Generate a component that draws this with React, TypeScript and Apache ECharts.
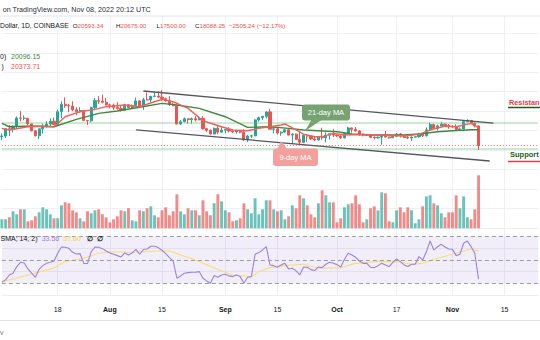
import React, { useEffect, useRef } from "react";
import * as echarts from "echarts";

const FONT = "'Liberation Sans', Arial, sans-serif";

// ---------- data ----------
const firstDay = "2022-07-03";
const dayCount = 145; // Jul 3 .. Nov 24 (empty space after Nov 8)

// daily candles [open, high, low, close], Jul 3 .. Nov 8 2022
const candles: number[][] = [
  [19240, 19640, 18760, 19300], [19300, 20310, 19050, 20230], [20230, 20720, 19300, 20190], [20190, 20650, 19770, 20550],
  [20550, 21820, 20260, 21620], [21620, 22510, 21180, 21580], [21580, 21950, 21340, 21590], [21590, 21600, 20700, 20860],
  [20860, 20870, 19900, 19970], [19970, 20050, 19260, 19330], [19330, 20260, 18910, 20220], [20220, 20890, 19630, 20580],
  [20580, 21190, 20390, 20830], [20830, 21570, 20500, 21200], [21200, 21670, 20760, 20790], [20790, 22690, 20770, 22420],
  [22420, 23750, 21590, 23390], [23390, 24270, 22920, 23230], [23230, 23420, 22350, 23160], [23160, 23770, 22510, 22680],
  [22680, 22990, 21960, 22450], [22450, 23000, 22280, 22580], [22580, 22650, 21260, 21310], [21310, 21350, 20710, 21250],
  [21250, 23080, 21050, 22950], [22950, 24190, 22590, 23850], [23850, 24440, 23420, 23770], [23770, 24650, 23510, 23640],
  [23640, 24200, 23230, 23300],
  [23300, 23470, 22850, 23270], [23270, 23460, 22660, 22980], [22980, 23650, 22690, 22830], [22830, 23220, 22440, 22620],
  [22620, 23460, 22590, 23310], [23310, 23360, 22920, 22960], [22960, 23370, 22830, 23180], [23180, 24230, 23150, 23810],
  [23810, 23920, 22880, 23150], [23150, 24210, 22670, 23950], [23950, 24900, 23900, 23940], [23940, 24460, 23600, 24400],
  [24400, 24890, 24290, 24440], [24440, 25050, 24150, 24310], [24310, 25210, 23780, 24100], [24100, 24240, 23700, 23850],
  [23850, 24450, 23190, 23340], [23340, 23600, 23140, 23190], [23190, 23200, 20810, 20830], [20830, 21360, 20800, 21140],
  [21140, 21690, 21090, 21520], [21520, 21540, 20900, 21400], [21400, 21670, 20880, 21530], [21530, 21860, 21160, 21370],
  [21370, 21820, 21320, 21560], [21560, 21880, 20140, 20240], [20240, 20370, 19830, 20040], [20040, 20140, 19530, 19550],
  [19550, 20390, 19550, 20290], [20290, 20570, 19540, 19800], [19800, 20480, 19800, 20050],
  [20050, 20200, 19660, 20130], [20130, 20440, 19750, 19950], [19950, 19960, 19660, 19830], [19830, 20030, 19600, 20000],
  [20000, 20040, 19640, 19800], [19800, 20170, 18680, 18790], [18790, 19460, 18530, 19290], [19290, 19450, 19030, 19320],
  [19320, 21460, 19300, 21370], [21370, 21800, 21130, 21650], [21650, 21860, 21380, 21830], [21830, 22490, 21560, 22400],
  [22400, 22800, 20170, 20180], [20180, 20540, 19640, 20230], [20230, 20330, 19500, 19700], [19700, 19890, 19330, 19800],
  [19800, 20180, 19750, 20110], [20110, 20130, 19380, 19420], [19420, 19680, 18260, 19540], [19540, 19630, 18770, 18880],
  [18880, 19960, 18150, 18490], [18490, 19500, 18380, 19400], [19400, 19480, 18540, 19290], [19290, 19310, 18820, 18920],
  [18920, 19180, 18640, 18800], [18800, 19310, 18680, 19230], [19230, 20360, 18810, 19080], [19080, 19780, 18480, 19410],
  [19410, 19630, 18850, 19590], [19590, 20180, 19180, 19430],
  [19430, 19480, 19160, 19310], [19310, 19400, 18920, 19060], [19060, 19720, 19000, 19630], [19630, 20480, 19500, 20340],
  [20340, 20360, 19740, 20160], [20160, 20450, 19860, 19960], [19960, 20060, 19330, 19530], [19530, 19620, 19250, 19420],
  [19420, 19530, 19330, 19440], [19440, 19530, 19030, 19130], [19130, 19260, 18860, 19060], [19060, 19220, 18990, 19160],
  [19160, 19520, 18190, 19380], [19380, 19950, 19090, 19180], [19180, 19230, 18960, 19070], [19070, 19420, 19070, 19270],
  [19270, 19680, 19160, 19550], [19550, 19700, 19110, 19330], [19330, 19360, 19070, 19120], [19120, 19350, 18900, 19040],
  [19040, 19250, 18660, 19170], [19170, 19250, 19110, 19210], [19210, 19700, 19070, 19570], [19570, 19600, 19160, 19330],
  [19330, 20410, 19240, 20090], [20090, 21020, 20060, 20770], [20770, 20880, 20200, 20290], [20290, 20750, 20000, 20600],
  [20600, 21090, 20550, 20820], [20820, 20930, 20520, 20630], [20630, 20840, 20230, 20490],
  [20490, 20700, 20350, 20480], [20480, 20800, 20050, 20150], [20150, 20400, 20040, 20210], [20210, 21300, 20180, 21150],
  [21150, 21470, 21080, 21300], [21300, 21350, 20890, 20910], [20910, 21070, 20400, 20593.34], [20593.34, 20675, 17500, 18088.25],
];

// daily volume (relative units), Jul 3 .. Nov 8
const volumes: number[] = [
  9, 9, 11, 17, 14, 19, 19, 7, 8, 12, 16, 21, 19, 14, 10, 10, 23, 26, 25, 18, 16, 10, 7, 17, 15, 18, 19, 14, 11,
  6, 9, 12, 18, 17, 20, 8, 7, 18, 17, 20, 22, 13, 11, 18, 21, 13, 17, 34, 17, 14, 20, 18, 18, 13, 28, 17, 13, 25, 34, 27,
  18, 16, 7, 8, 10, 25, 19, 15, 30, 14, 19, 28, 28, 19, 17, 18, 9, 12, 23, 20, 33, 30, 23, 14, 11, 25, 38, 33, 26, 26,
  6, 10, 21, 24, 25, 33, 24, 6, 9, 20, 22, 18, 36, 35, 7, 6, 18, 21, 16, 21, 18, 5, 9, 22, 32, 33, 25, 23, 15, 11, 16,
  16, 33, 20, 32, 11, 9, 19, 53,
];

// RSI(14) daily, Jul 3 .. Nov 8
const rsi: number[] = [
  30.9, 32.9, 37.1, 38.6, 44.3, 48, 47.4, 42.3, 38.6, 35.1, 42, 45.1, 47.1, 48, 49.1, 55.7, 61.1, 60.9, 60, 56.6,
  55.1, 55.4, 47.1, 46.9, 57.1, 61.1, 60.9, 59.7, 57.7,
  56, 54.9, 53.7, 52.6, 56, 54.3, 56, 59.1, 54.9, 58.9, 59.4, 61.7, 61.7, 60.6, 58.3, 55.4, 52, 49.1, 34.3, 36.3,
  38.6, 39.1, 39.4, 39.4, 40, 34.3, 32, 30, 36.6, 35.1, 37.1,
  37.7, 36.3, 35.7, 37.1, 35.7, 30, 35.1, 35.7, 54.9, 56.3, 58.6, 61.4, 45.7, 45.1, 43.7, 45.7, 47.1, 42.3, 42.9, 40.6,
  37.1, 44, 43.7, 41.7, 40.9, 44, 43.4, 46.3, 48, 47.1,
  46, 44, 50.6, 55.7, 54.3, 52.3, 49.1, 47.1, 47.1, 43.7, 43.4, 45.1, 47.1, 45.7, 44.3, 48, 50.9, 48.6, 45.7, 44.3,
  46.3, 46.3, 52.9, 50, 57.1, 66.3, 58.6, 61.4, 63.4, 61.1, 59.4,
  59.1, 53.7, 54.9, 64.3, 66.3, 61.4, 55.7, 33.56,
];

// RSI-based SMA, read at selected days
const rsiSma: [string, number][] = [
  ["2022-07-03", 31], ["2022-07-10", 37.1], ["2022-07-17", 43], ["2022-07-20", 48.6], ["2022-07-25", 51.4],
  ["2022-07-29", 55.7], ["2022-08-01", 57], ["2022-08-07", 56.6], ["2022-08-14", 57.7], ["2022-08-17", 57.7],
  ["2022-08-20", 54.3], ["2022-08-25", 48.6], ["2022-08-29", 43], ["2022-09-03", 37.1], ["2022-09-08", 35.7],
  ["2022-09-10", 40], ["2022-09-13", 43.4], ["2022-09-17", 45.1], ["2022-09-22", 46.3], ["2022-09-26", 42.9],
  ["2022-10-02", 43.4], ["2022-10-06", 47.1], ["2022-10-12", 48.6], ["2022-10-17", 48.6], ["2022-10-21", 46.3],
  ["2022-10-24", 47.1], ["2022-10-28", 51.4], ["2022-11-01", 54.9], ["2022-11-06", 59.4], ["2022-11-08", 57.6],
];

// 9-day moving average, read at selected days
const ma9: [string, number][] = [
  ["2022-07-03", 20287], ["2022-07-05", 20072], ["2022-07-10", 20492], ["2022-07-14", 20560], ["2022-07-17", 20492],
  ["2022-07-20", 21781], ["2022-07-24", 22425], ["2022-07-28", 22728], ["2022-07-31", 23070], ["2022-08-05", 23284],
  ["2022-08-09", 23070], ["2022-08-13", 23704], ["2022-08-15", 24017], ["2022-08-18", 23704], ["2022-08-22", 22855],
  ["2022-08-26", 21263], ["2022-08-31", 20492], ["2022-09-03", 20072], ["2022-09-07", 19984], ["2022-09-10", 20287],
  ["2022-09-13", 20492], ["2022-09-16", 20717], ["2022-09-17", 20850], ["2022-09-20", 20100], ["2022-09-22", 19550],
  ["2022-09-25", 19213], ["2022-09-27", 19213], ["2022-09-30", 19642], ["2022-10-03", 19428], ["2022-10-08", 19500],
  ["2022-10-13", 19428], ["2022-10-19", 19300], ["2022-10-23", 19516], ["2022-10-26", 20072], ["2022-10-30", 20589],
  ["2022-11-02", 20492], ["2022-11-06", 20931], ["2022-11-08", 20373.71],
];

// 21-day moving average, read at selected days
const ma21: [string, number][] = [
  ["2022-07-03", 20931], ["2022-07-05", 20492], ["2022-07-11", 20580], ["2022-07-17", 20492], ["2022-07-23", 21439],
  ["2022-07-29", 22210], ["2022-08-03", 22513], ["2022-08-09", 22991], ["2022-08-15", 23499], ["2022-08-19", 23284],
  ["2022-08-25", 22855], ["2022-09-01", 21781], ["2022-09-07", 20414], ["2022-09-13", 20492], ["2022-09-18", 20287],
  ["2022-09-22", 20072], ["2022-09-26", 19984], ["2022-10-01", 19857], ["2022-10-05", 19555], ["2022-10-10", 19428],
  ["2022-10-14", 19428], ["2022-10-19", 19428], ["2022-10-23", 19555], ["2022-10-28", 19857], ["2022-11-01", 19984],
  ["2022-11-06", 20100], ["2022-11-08", 20096.15],
];

const timeLabels: Record<string, string> = {
  "2022-07-18": "18", "2022-08-01": "Aug", "2022-08-15": "15", "2022-09-01": "Sep", "2022-09-15": "15",
  "2022-10-01": "Oct", "2022-10-17": "17", "2022-11-01": "Nov", "2022-11-15": "15",
};
const monthNames = ["Aug", "Sep", "Oct", "Nov"];

const upperTrend: [string, number][] = [["2022-08-10", 25090], ["2022-11-12", 20966]];
const lowerTrend: [string, number][] = [["2022-08-08", 20085], ["2022-11-11", 16088]];
const resistanceLevel = 20950;
const supportLevel = 17600;
const lastClose = 18088.25;

// ---------- helpers ----------
function buildDates(): string[] {
  const out: string[] = [];
  const t0 = Date.parse(firstDay + "T00:00:00Z");
  for (let i = 0; i < dayCount; i++) {
    out.push(new Date(t0 + i * 86400000).toISOString().slice(0, 10));
  }
  return out;
}
const dates = buildDates();

const UP = "#26a69a";
const DOWN = "#ef5350";

function txt(x: number, y: number, text: string, fill: string, extra: any = {}) {
  return {
    type: "text",
    x,
    y,
    z: 60,
    style: {
      text,
      fill,
      fontSize: 7,
      fontFamily: FONT,
      verticalAlign: "middle",
      align: "left",
      ...extra,
    },
  };
}

function ohlcPiece(x: number, key: string, value: string) {
  const fs = 6.2;
  return txt(x, 25, `{k|${key}}{v|${value}}`, "#131722", {
    fontSize: fs,
    rich: {
      k: { fill: "#131722", fontSize: fs, fontFamily: FONT },
      v: { fill: DOWN, fontSize: fs, fontFamily: FONT },
    },
  });
}

export default function App() {
  const ref = useRef<HTMLDivElement>(null);

  useEffect(() => {
    if (!ref.current) return;
    const chart = echarts.init(ref.current, undefined, { renderer: "svg" });

    const gridL = 1.86;
    const gridR = 1.88;
    const splitCol = "#eef0f5";
    const showAt = (_i: number, v: string) => v in timeLabels;

    const catAxis = (gridIndex: number, extra: any = {}) => ({
      type: "category",
      gridIndex,
      data: dates,
      boundaryGap: false,
      axisLine: { show: false },
      axisTick: { show: false },
      axisLabel: { show: false },
      splitLine: { show: true, interval: showAt, lineStyle: { color: splitCol, width: 1 } },
      ...extra,
    });

    const option: any = {
      animation: false,
      backgroundColor: "#ffffff",
      grid: [
        { left: gridL, right: gridR, top: 13.9, height: 213.9 },
        { left: gridL, right: gridR, top: 168.3, height: 60 },
        { left: gridL, right: gridR, top: 225, height: 69.9 },
      ],
      xAxis: [
        catAxis(0),
        catAxis(1, { splitLine: { show: false } }),
        catAxis(2, {
          axisLine: { show: true, lineStyle: { color: "#eceef3", width: 1 } },
          axisLabel: {
            show: true,
            interval: showAt,
            margin: 11,
            fontSize: 7,
            fontFamily: FONT,
            color: "#131722",
            formatter: (v: string) => {
              const s = timeLabels[v] || "";
              return monthNames.includes(s) ? `{b|${s}}` : s;
            },
            rich: { b: { fontWeight: "bold", fontSize: 7, fontFamily: FONT, color: "#131722" } },
          },
        }),
      ],
      yAxis: [
        {
          type: "value",
          gridIndex: 0,
          min: 7500,
          max: 35000,
          interval: 2500,
          axisLine: { show: false },
          axisTick: { show: false },
          axisLabel: { show: false },
          splitLine: { show: true, lineStyle: { color: splitCol, width: 1 } },
        },
        {
          type: "value",
          gridIndex: 1,
          min: 0,
          max: 60,
          axisLine: { show: false },
          axisTick: { show: false },
          axisLabel: { show: false },
          splitLine: { show: false },
        },
        {
          type: "value",
          gridIndex: 2,
          min: 20,
          max: 80,
          interval: 20,
          axisLine: { show: false },
          axisTick: { show: false },
          axisLabel: { show: false },
          splitLine: {
            show: true,
            lineStyle: { color: [splitCol, splitCol, splitCol, "rgba(0,0,0,0)"], width: 1 },
          },
        },
      ],
      series: [
        {
          type: "bar",
          xAxisIndex: 1,
          yAxisIndex: 1,
          barWidth: 2.9,
          z: 1,
          data: volumes.map((v, i) => ({
            value: v,
            itemStyle: {
              color: candles[i][3] >= candles[i][0] ? "rgba(38,166,154,0.68)" : "rgba(239,83,80,0.68)",
            },
          })),
        },
        {
          type: "candlestick",
          xAxisIndex: 0,
          yAxisIndex: 0,
          barWidth: 2.6,
          z: 3,
          data: candles.map(([o, h, l, c]) => [o, c, l, h]),
          itemStyle: { color: UP, color0: DOWN, borderColor: UP, borderColor0: DOWN, borderWidth: 1 },
          markLine: {
            silent: true,
            symbol: ["none", "none"],
            label: { show: false },
            data: [
              { yAxis: resistanceLevel, lineStyle: { color: "rgba(76,175,80,0.28)", width: 2, type: "solid" } },
              { yAxis: supportLevel, lineStyle: { color: "rgba(76,175,80,0.28)", width: 2, type: "solid" } },
              { yAxis: lastClose, lineStyle: { color: "#ef5350", width: 1, type: [1, 2], opacity: 0.8 } },
              [
                { coord: upperTrend[0], lineStyle: { color: "#55575f", width: 1.3, type: "solid" } },
                { coord: upperTrend[1] },
              ],
              [
                { coord: lowerTrend[0], lineStyle: { color: "#55575f", width: 1.3, type: "solid" } },
                { coord: lowerTrend[1] },
              ],
            ],
          },
        },
        {
          type: "line",
          xAxisIndex: 0,
          yAxisIndex: 0,
          data: ma21,
          showSymbol: false,
          z: 4,
          lineStyle: { color: "#43873d", width: 1.4 },
        },
        {
          type: "line",
          xAxisIndex: 0,
          yAxisIndex: 0,
          data: ma9,
          showSymbol: false,
          z: 5,
          lineStyle: { color: "#f0615e", width: 1.4 },
        },
        {
          type: "line",
          xAxisIndex: 2,
          yAxisIndex: 2,
          data: rsi,
          showSymbol: false,
          z: 4,
          lineStyle: { color: "#9d82db", width: 1.1 },
          markArea: {
            silent: true,
            itemStyle: { color: "rgba(126,87,194,0.1)" },
            data: [[{ yAxis: 70 }, { yAxis: 30 }]],
          },
          markLine: {
            silent: true,
            symbol: ["none", "none"],
            label: { show: false },
            lineStyle: { color: "#9a9ca3", width: 1, type: [4, 3] },
            data: [{ yAxis: 70 }, { yAxis: 50 }, { yAxis: 30 }],
          },
        },
        {
          type: "line",
          xAxisIndex: 2,
          yAxisIndex: 2,
          data: rsiSma,
          showSymbol: false,
          z: 3,
          lineStyle: { color: "#f6df72", width: 1.1 },
        },
      ],
      graphic: [
        { type: "rect", z: 50, shape: { x: 0, y: 0, width: 540, height: 15.5 }, style: { fill: "#ffffff" } },
        { type: "line", z: 51, shape: { x1: 0, y1: 16, x2: 540, y2: 16 }, style: { stroke: "#e0e3eb", lineWidth: 1 } },
        { type: "line", z: 51, shape: { x1: 0, y1: 320.5, x2: 540, y2: 320.5 }, style: { stroke: "#e0e3eb", lineWidth: 1 } },
        txt(2.7, 9.5, "on TradingView.com, Nov 08, 2022 20:12 UTC", "#2a2e39", { fontSize: 7.2 }),
        txt(0, 25, "Dollar, 1D, COINBASE", "#131722", { fontSize: 6.8 }),
        ohlcPiece(72.7, "O", "20593.34"),
        ohlcPiece(116, "H", "20675.00"),
        ohlcPiece(156.5, "L", "17500.00"),
        ohlcPiece(195, "C", "18088.25"),
        txt(229, 25, "\u22122505.24 (\u221212.17%)", DOWN, { fontSize: 6.2 }),
        txt(0, 56.7, "0)", "#131722"),
        txt(11, 56.7, "20096.15", "#43873d"),
        txt(1.5, 66.7, ")", "#131722"),
        txt(11, 66.7, "20373.71", DOWN),
        // callouts
        {
          type: "polygon", z: 55,
          shape: { points: [[312, 119], [323, 119], [305, 131]] },
          style: { fill: "#77a373" },
        },
        {
          type: "rect", z: 55,
          shape: { x: 302, y: 104.5, width: 48, height: 16, r: 3 },
          style: { fill: "#77a373" },
        },
        txt(326, 112.5, "21-day MA", "#ffffff", { align: "center", fontSize: 7.5 }),
        {
          type: "polygon", z: 55,
          shape: { points: [[277, 150], [288, 150], [281, 141]] },
          style: { fill: "#f4a19e" },
        },
        {
          type: "rect", z: 55,
          shape: { x: 273, y: 148.5, width: 45, height: 17.5, r: 3 },
          style: { fill: "#f4a19e" },
        },
        txt(295.5, 157.3, "9-day MA", "#ffffff", { align: "center", fontSize: 7.5 }),
        // resistance / support labels (cut by the picture's right edge in the original)
        txt(509, 102, "Resistan", "#f23645", { fontSize: 7.3, fontWeight: "bold" }),
        { type: "line", z: 55, shape: { x1: 508, y1: 107.5, x2: 540, y2: 107.5 }, style: { stroke: "#1b5e20", lineWidth: 1.5 } },
        txt(510, 154.5, "Support", "#1b5e20", { fontSize: 7.5, fontWeight: "bold" }),
        { type: "line", z: 55, shape: { x1: 508, y1: 161.5, x2: 540, y2: 161.5 }, style: { stroke: "#f23645", lineWidth: 1.5 } },
        // RSI legend
        txt(0.5, 238.3, "SMA; 14; 2)", "#131722"),
        txt(41.7, 238.3, "33.56", "#9d82db"),
        txt(63.3, 238.3, "57.60", "#f2d64e"),
        txt(87.3, 238.3, "\u2205", "#131722", { fontWeight: "bold" }),
        txt(97.3, 238.3, "\u2205", "#131722", { fontWeight: "bold" }),
        txt(0, 332, "v", "#787b86"),
      ],
    };

    chart.setOption(option);
    return () => chart.dispose();
  }, []);

  return (
    <div
      ref={ref}
      style={{ position: "fixed", left: 0, top: 0, width: 540, height: 340, background: "#fff" }}
    />
  );
}
